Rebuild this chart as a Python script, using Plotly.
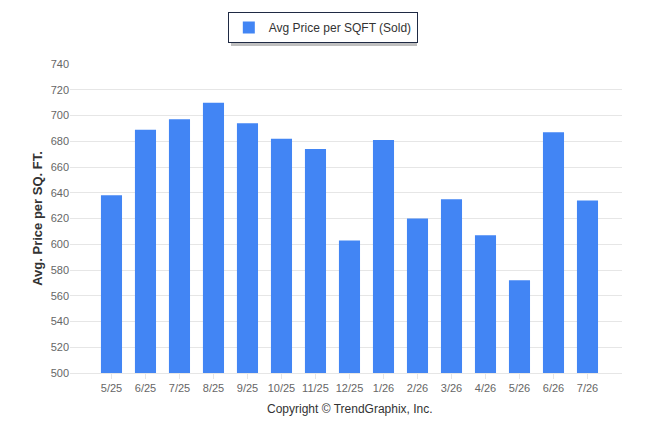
import plotly.graph_objects as go

months = ['5/25', '6/25', '7/25', '8/25', '9/25', '10/25', '11/25', '12/25',
          '1/26', '2/26', '3/26', '4/26', '5/26', '6/26', '7/26']
price_sqft = [638, 689, 697, 710, 694, 682, 674, 603,
              681, 620, 635, 607, 572, 687, 634]

sans = 'Liberation Sans, Arial, sans-serif'

fig = go.Figure(go.Bar(
    x=months,
    y=price_sqft,
    name='Avg Price per SQFT (Sold)',
    marker=dict(color='#4285f4', line=dict(width=0)),
    width=0.62,
))

# page body has an 8px margin, so the figure is sized 16px smaller
fig.update_layout(
    width=630, height=418,
    margin=dict(l=62, r=16, t=56, b=53, autoexpand=False),
    paper_bgcolor='white', plot_bgcolor='white',
    font=dict(family=sans, color='#666666', size=11),
    showlegend=True,
    legend=dict(
        orientation='h', xref='paper', yref='paper',
        x=0.458, xanchor='center', y=1.168, yanchor='top',
        bordercolor='#1f2a44', borderwidth=1, bgcolor='white',
        font=dict(family=sans, size=12, color='#333333'),
        tracegroupgap=0, itemwidth=30,
    ),
    xaxis=dict(
        range=[-1.22, 15.015],
        showgrid=False,
        showline=True, linecolor='#e6e6e6', linewidth=1,
        ticks='outside', ticklen=5, tickcolor='#e6e6e6',
        tickfont=dict(family=sans, size=11, color='#666666'),
        fixedrange=True,
    ),
    yaxis=dict(
        range=[500, 740], dtick=20, tick0=500,
        showgrid=True, gridcolor='#e6e6e6', gridwidth=1,
        zeroline=False, showline=False, ticks='',
        tickfont=dict(family=sans, size=11, color='#666666'),
        title=dict(text='<b>Avg. Price per SQ. FT.</b>',
                   font=dict(family=sans, size=13, color='#333333'),
                   standoff=5),
    ),
    bargap=0.38,
)

# soft drop shadow behind the legend box
fig.add_shape(
    type='rect', xref='paper', yref='paper',
    x0=(231 - 70) / 552, x1=(417 - 70) / 552,
    y0=(373 - 46) / 309, y1=(373 - 17) / 309,
    fillcolor='rgba(0,0,0,0.25)', line=dict(width=0), layer='above',
)

fig.add_annotation(
    text='Copyright © TrendGraphix, Inc.',
    xref='paper', yref='paper', x=0.507, y=-0.117,
    xanchor='center', yanchor='middle', showarrow=False,
    font=dict(family=sans, size=12, color='#333333'),
)

fig.write_html('out.html')
